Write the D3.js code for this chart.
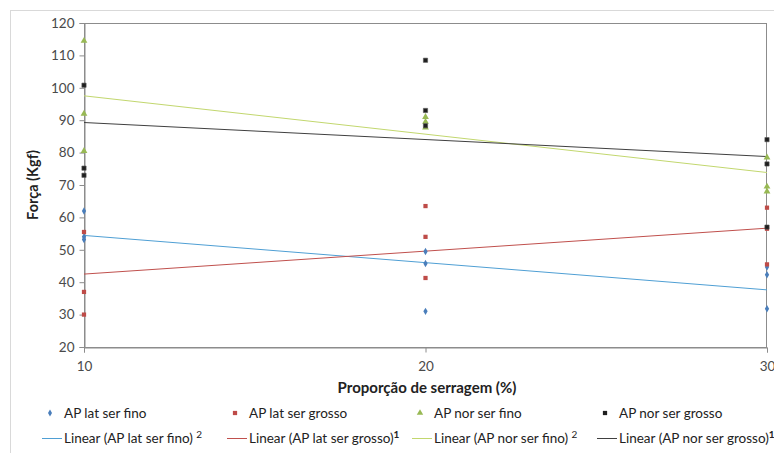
<!DOCTYPE html>
<html>
<head>
<meta charset="utf-8">
<script src="https://cdn.jsdelivr.net/npm/d3@7"></script>
<style>
body { margin: 0; background: #fff; }
svg text { font-family: Lato, "Open Sans", sans-serif; }
</style>
</head>
<body>
<div id="chart"></div>
<script>
var xTicks = [10, 20, 30];
var yTicks = [20, 30, 40, 50, 60, 70, 80, 90, 100, 110, 120];

// x = proporcao de serragem, three readings each
var xVals = [10, 10, 10, 20, 20, 20, 30, 30, 30];
var latFino   = [62, 54, 53.2, 49.5, 45.8, 31, 42.3, 44.7, 31.8];
var latGrosso = [55.5, 37, 30, 63.5, 54, 41.3, 63, 56.5, 45.5];
var norFino   = [114.5, 92, 80.5, 91, 89.5, 87.7, 78.5, 69.5, 68];
var norGrosso = [100.8, 75.2, 73, 108.5, 93, 88.3, 84, 76.5, 57];

var seriesNames = ["AP lat ser fino", "AP lat ser grosso", "AP nor ser fino", "AP nor ser grosso"];
var trendNames = ["Linear (AP lat ser fino) ", "Linear (AP lat ser grosso)", "Linear (AP nor ser fino) ", "Linear (AP nor ser grosso)"];
var trendSup = ["2", "1", "2", "1"];
var colors = ["#4a7ebb", "#be4b48", "#98b954", "#1f1f1f"];
var trendColors = ["#4f9fd4", "#c0504d", "#c2d76e", "#404040"];
var shapes = [d3.symbolDiamond, d3.symbolSquare, d3.symbolTriangle, d3.symbolSquare];

var w = 774, h = 453;
var svg = d3.select("#chart").append("svg").attr("width", w).attr("height", h);

// chart frame
svg.append("rect").attr("x", 10.5).attr("y", 10.5).attr("width", 800).attr("height", 500)
   .attr("fill", "none").attr("stroke", "#d9d9d9");

var x = d3.scaleLinear().domain([10, 30]).range([84, 767]);
var y = d3.scaleLinear().domain([20, 120]).range([347, 23]);

svg.append("rect").attr("x", 84.5).attr("y", 23.5).attr("width", 682).attr("height", 324)
   .attr("fill", "none").attr("stroke", "#8c8c8c");

var yAxis = svg.append("g").attr("transform", "translate(84.5,0)")
   .call(d3.axisLeft(y).tickValues(yTicks).tickSize(5).tickPadding(5));
var xAxis = svg.append("g").attr("transform", "translate(0,347.5)")
   .call(d3.axisBottom(x).tickValues(xTicks).tickSize(5).tickPadding(9));
[yAxis, xAxis].forEach(function(a) {
    a.selectAll("path, line").attr("stroke", "#8c8c8c");
    a.selectAll("text").attr("fill", "#4a4a4a").attr("font-size", "13.5px")
     .style("font-family", "Lato, 'Open Sans', sans-serif");
});

svg.append("text").attr("transform", "translate(38,185) rotate(-90)")
   .attr("text-anchor", "middle").attr("font-size", "14.5px").attr("font-weight", "bold")
   .attr("fill", "#222").text("Força (Kgf)");
svg.append("text").attr("x", 427).attr("y", 393)
   .attr("text-anchor", "middle").attr("font-size", "15px").attr("font-weight", "bold")
   .attr("fill", "#222").text("Proporção de serragem (%)");

var allSeries = [latFino, latGrosso, norFino, norGrosso];

// linear trend lines (least squares)
function fit(ys) {
    var mx = d3.mean(xVals), my = d3.mean(ys);
    var sxy = d3.sum(xVals, function(v, i) { return (v - mx) * (ys[i] - my); });
    var sxx = d3.sum(xVals, function(v) { return (v - mx) * (v - mx); });
    var b = sxy / sxx;
    return function(v) { return my + b * (v - mx); };
}

allSeries.forEach(function(ys, k) {
    var f = fit(ys);
    svg.append("line")
       .attr("x1", x(10)).attr("y1", y(f(10)))
       .attr("x2", x(30)).attr("y2", y(f(30)))
       .attr("stroke", trendColors[k]).attr("stroke-width", 1);
});

allSeries.forEach(function(ys, k) {
    var size = k == 0 ? 16 : (k == 2 ? 20 : 18);
    svg.selectAll(".pt" + k).data(ys).enter().append("path")
       .attr("class", "pt" + k)
       .attr("d", d3.symbol().type(shapes[k]).size(size))
       .attr("transform", function(d, i) { return "translate(" + x(xVals[i]) + "," + y(d) + ")"; })
       .attr("fill", colors[k])
       .attr("stroke", k == 3 ? "#555" : "none").attr("stroke-width", 0.6);
});

// legend
var colX = [50, 235, 420, 605];
colX.forEach(function(cx, k) {
    svg.append("path").attr("d", d3.symbol().type(shapes[k]).size(k == 0 ? 14 : 18))
       .attr("transform", "translate(" + cx + ",413)").attr("fill", colors[k]);
    svg.append("text").attr("x", cx + 14).attr("y", 418).attr("font-size", "13.5px")
       .attr("fill", "#222").text(seriesNames[k]);

    svg.append("line").attr("x1", cx - 8).attr("x2", cx + 12).attr("y1", 438.5).attr("y2", 438.5)
       .attr("stroke", trendColors[k]).attr("stroke-width", 1);
    var t = svg.append("text").attr("x", cx + 14).attr("y", 443).attr("font-size", "13.5px")
       .attr("fill", "#222");
    t.append("tspan").text(trendNames[k]);
    t.append("tspan").attr("dy", -5).attr("font-size", "10px")
     .attr("font-weight", trendSup[k] == "1" ? "bold" : "normal").text(trendSup[k]);
});
</script>
</body>
</html>
